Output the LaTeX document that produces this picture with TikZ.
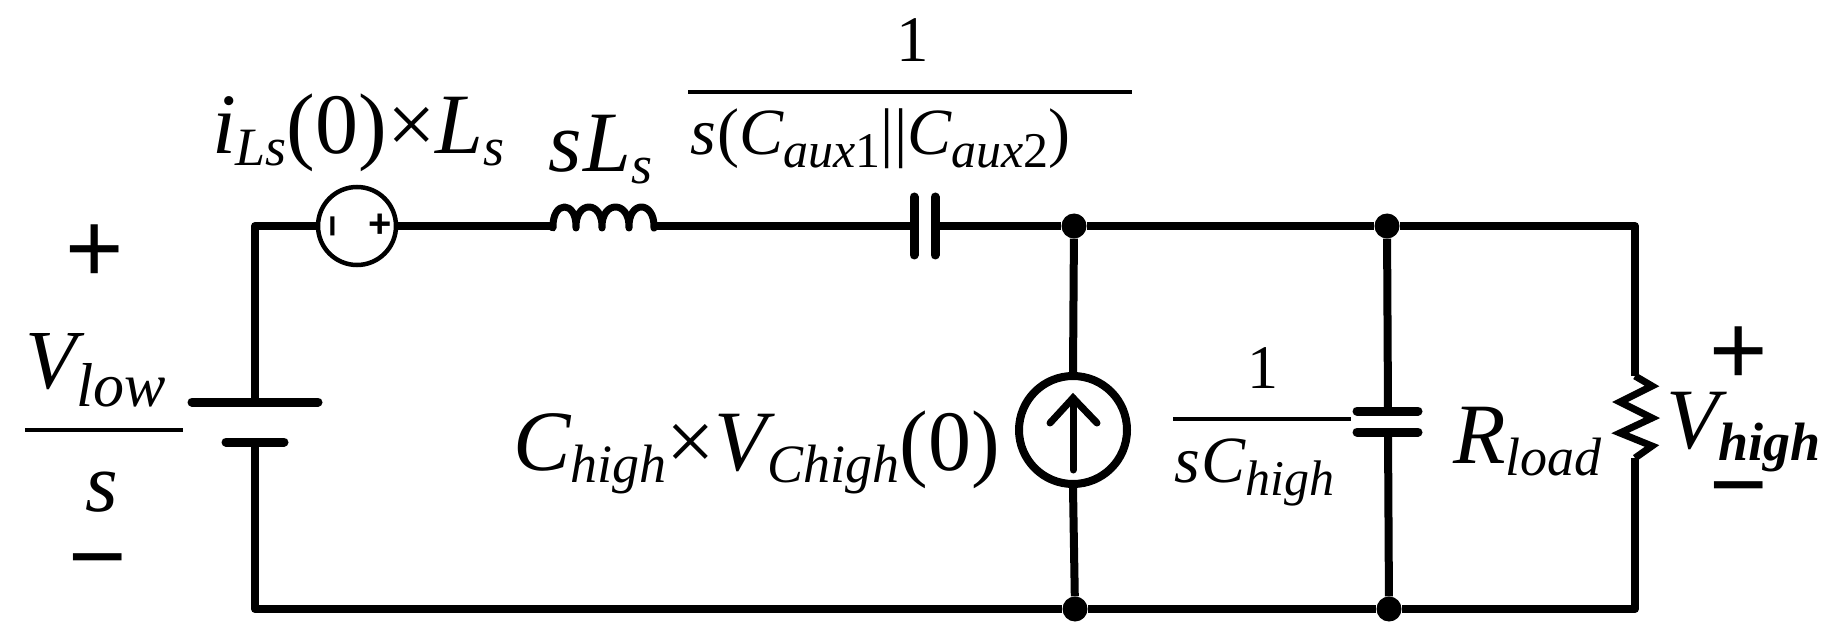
\documentclass[tikz,border=0pt]{standalone}
\usepackage{fontspec}
\setmainfont{Liberation Serif}
\newfontfamily\signfont{Liberation Sans}
\newcommand{\fs}[1]{\fontsize{#1}{#1}\selectfont}
\newcommand{\subt}[3]{\raisebox{-#1pt}{\fs{#2}\itshape #3}}
\tikzset{
  x=1pt,y=-1pt,
  wire/.style={draw=black,line width=8pt,line join=round},
  plate/.style={draw=black,line width=9pt,line cap=round},
  thinline/.style={draw=black,line width=4pt},
  lbl/.style={anchor=base west,inner sep=0pt,outer sep=0pt,text=black},
  sign/.style={anchor=center,inner sep=0pt,outer sep=0pt,text=black,font=\signfont\fs{100}},
  dotn/.style={circle,fill=black,minimum size=25pt,inner sep=0pt},
  vsrc/.style={circle,draw=black,line width=4.5pt,minimum size=78pt,inner sep=0pt,fill=white},
  isrc/.style={circle,draw=black,line width=8pt,minimum size=108pt,inner sep=0pt,fill=white},
}
\begin{document}
\begin{tikzpicture}
\useasboundingbox (0,0) rectangle (1839,644);
% junctions and corners
\coordinate (tl) at (255,226);
\coordinate (bl) at (255,609);
\coordinate (tr) at (1635,226);
\coordinate (br) at (1635,609);
\coordinate (batP) at (255,402);
\coordinate (batN) at (255,442);
\coordinate (batPl) at (192,402);
\coordinate (batPr) at (318,402);
\coordinate (batNl) at (226,442);
\coordinate (batNr) at (284,442);
\coordinate (indA) at (550,226);
\coordinate (indB) at (656,226);
\coordinate (capA) at (914,226);
\coordinate (capB) at (935,226);
\coordinate (capAt) at (914,197);
\coordinate (capAb) at (914,255);
\coordinate (capBt) at (935,197);
\coordinate (capBb) at (935,255);
\coordinate (chA) at (1388,411);
\coordinate (chB) at (1388,432);
\coordinate (chAl) at (1357,411);
\coordinate (chAr) at (1418,411);
\coordinate (chBl) at (1357,432);
\coordinate (chBr) at (1418,432);
\coordinate (rA) at (1635,376);
\coordinate (rB) at (1635,458);
\node[dotn] (n1) at (1074,226) {};
\node[dotn] (n2) at (1387,226) {};
\node[dotn] (n3) at (1075,609) {};
\node[dotn] (n4) at (1389,609) {};
\node[vsrc] (vs) at (357,226) {};
\node[isrc] (cs) at (1073,430) {};
% wires
\draw[wire] (batP) -- (tl) -- (vs.west);
\draw[wire] (vs.east) -- (indA);
\draw[wire] (indB) -- (capA);
\draw[wire] (capB) -- (n1) -- (n2) -- (tr) -- (rA);
\draw[wire] (rB) -- (br) -- (n4) -- (n3) -- (bl) -- (batN);
\draw[wire] (n1) -- (cs.north);
\draw[wire] (cs.south) -- (n3);
\draw[wire] (n2) -- (chA);
\draw[wire] (chB) -- (n4);
% battery and capacitors
\draw[plate] (batPl) -- (batPr);
\draw[plate] (batNl) -- (batNr);
\draw[plate] (capAt) -- (capAb);
\draw[plate] (capBt) -- (capBb);
\draw[plate] (chAl) -- (chAr);
\draw[plate] (chBl) -- (chBr);
% inductor
\draw[black,line width=7pt,line join=round,line cap=round] (indA) -- (553,228)
  .. controls (552,200) and (577,200) .. (576,228)
  .. controls (575,200) and (603,200) .. (602,228)
  .. controls (601,200) and (630,200) .. (629,228)
  .. controls (628,200) and (655,200) .. (654,228) -- (indB);
% resistor
\draw[black,line width=7pt,line join=miter,miter limit=4] (rA) -- (1652,386) -- (1620,402) -- (1652,418) -- (1620,433) -- (1652,446) -- (rB);
% current source arrow
\draw[black,line width=7pt,line cap=round] (cs.center) ++(0,40) -- ++(0,-72);
\draw[black,line width=7pt,line cap=round,line join=miter] (1050,423) -- (1073,398) -- (1097,423);
% signs in the voltage source
\node[sign,font=\signfont\bfseries\fs{38},rotate=90] (vsm) at (338,226) {−};
\node[sign,font=\signfont\bfseries\fs{40}] (vsp) at (380,226) {+};
% fraction bars
\coordinate (f1l) at (25,430);
\coordinate (f1r) at (183,430);
\coordinate (f2l) at (688,92);
\coordinate (f2r) at (1132,92);
\coordinate (f3l) at (1173,419);
\coordinate (f3r) at (1351,419);
\draw[thinline] (f1l) -- (f1r);
\draw[thinline] (f2l) -- (f2r);
\draw[thinline] (f3l) -- (f3r);
% labels
\node[sign] (lp) at (95,254) {+};
\node[sign] (lm) at (98,572) {−};
\node[sign] (rp) at (1739,356) {+};
\node[sign] (rm) at (1739,500) {−};
\node[lbl] (vlow) at (25,388) {\fs{84}\itshape V\subt{18}{62}{low}};
\node[lbl] (sl) at (85,511) {\fs{84}\itshape s};
\node[lbl] (ils) at (212,154) {\fs{86}\itshape i\subt{12}{54}{Ls}\upshape(0)×\itshape L\subt{12}{54}{s}};
\node[lbl] (sls) at (548,172) {\fs{86}\itshape s\kern2pt L\subt{12}{54}{s}};
\node[lbl] (one1) at (896,62) {\fs{65}1};
\node[lbl] (den) at (690,155) {\fs{66}\itshape s\kern2pt\upshape(\itshape C\subt{13}{50}{aux\upshape 1}\upshape||\itshape C\subt{13}{50}{aux\upshape 2}\upshape)};
\node[lbl] (chv) at (513,470) {\fs{86}\itshape C\subt{12}{54}{high}\upshape×\itshape V\subt{12}{54}{Chigh}\upshape(0)};
\node[lbl] (one2) at (1247,388) {\fs{62}1};
\node[lbl] (sch) at (1174,482) {\fs{66}\itshape s\kern2pt C\subt{13}{50}{high}};
\node[lbl] (rl) at (1453,463) {\fs{86}\itshape R\subt{12}{54}{load}};
\node[lbl] (vh) at (1666,448) {\fs{86}\itshape V\subt{12}{54}{\bfseries high}};
\end{tikzpicture}
\end{document}
